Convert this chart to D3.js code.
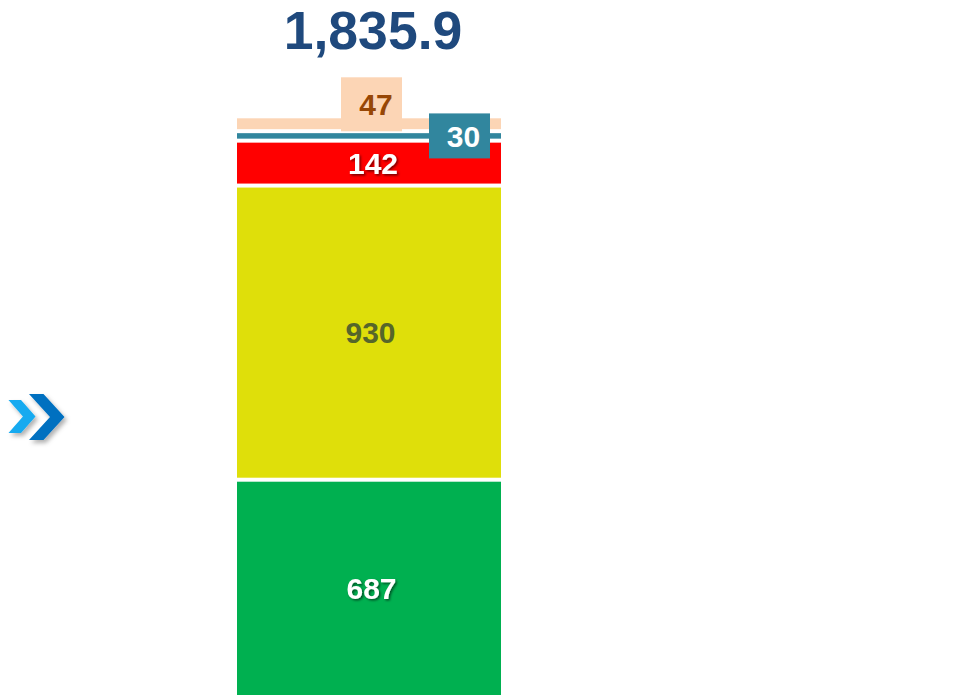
<!DOCTYPE html>
<html>
<head>
<meta charset="utf-8">
<script src="https://cdn.jsdelivr.net/npm/d3@7"></script>
<style>
  html, body { margin: 0; padding: 0; background: #fff; }
  svg { display: block; }
  text { font-family: "Liberation Sans", Arial, sans-serif; font-weight: bold; }
</style>
</head>
<body>
<svg id="chart" width="961" height="696"></svg>
<script>
// Segments of the stacked column, bottom to top
const segments = ["Segment A", "Segment B", "Segment C", "Segment D", "Segment E"];
const values = [687, 930, 142, 30, 47];
const labels = ["687", "930", "142", "30", "47"];
const totalLabel = "1,835.9";

const fills = ["#00b050", "#dfdf0a", "#ff0000", "#31869e", "#fcd5b5"];
const labelColors = ["#ffffff", "#56662a", "#ffffff", "#ffffff", "#974706"];

const svg = d3.select("#chart");

const defs = svg.append("defs");
const shadow = defs.append("filter").attr("id", "textShadow")
  .attr("x", "-20%").attr("y", "-20%").attr("width", "140%").attr("height", "140%");
shadow.append("feDropShadow").attr("dx", 1.5).attr("dy", 1.5).attr("stdDeviation", 0.8)
  .attr("flood-color", "#000").attr("flood-opacity", 0.55);
const iconShadow = defs.append("filter").attr("id", "iconShadow")
  .attr("x", "-30%").attr("y", "-30%").attr("width", "170%").attr("height", "170%");
iconShadow.append("feDropShadow").attr("dx", 2.5).attr("dy", 3).attr("stdDeviation", 2)
  .attr("flood-color", "#000").attr("flood-opacity", 0.3);

// Stack the values into cumulative extents
let acc = 0;
const stacked = values.map((v, i) => {
  const d = { key: segments[i], value: v, y0: acc, y1: acc + v, i };
  acc += v;
  return d;
});
const total = acc;

const x = d3.scaleBand().domain(["total"]).range([237, 501]).paddingInner(0).paddingOuter(0);
const y = d3.scaleLinear().domain([0, total]).range([697, 116.3]);

const gap = 2; // white separation between stacked pieces
const bar = svg.append("g");
bar.selectAll("rect").data(stacked).join("rect")
  .attr("x", x("total"))
  .attr("width", x.bandwidth())
  .attr("y", d => y(d.y1) + gap)
  .attr("height", d => Math.max(0, y(d.y0) - y(d.y1) - 2 * gap))
  .attr("fill", d => fills[d.i]);

const cx = x("total") + x.bandwidth() / 2;

// Labels inside the three large pieces
const inside = stacked.slice(0, 3);
svg.append("g").selectAll("text").data(inside).join("text")
  .attr("x", (d, i) => cx + [2.5, 1.5, 4][i])
  .attr("y", d => y((d.y0 + d.y1) / 2))
  .attr("dy", "0.36em")
  .attr("text-anchor", "middle")
  .attr("font-size", 30)
  .attr("fill", d => labelColors[d.i])
  .attr("filter", d => d.i === 1 ? null : "url(#textShadow)")
  .text(d => labels[d.i]);

// Callout for the thin teal piece, at the right edge
const dTeal = stacked[3];
const tealY = y((dTeal.y0 + dTeal.y1) / 2);
const tealG = svg.append("g");
tealG.append("rect").attr("x", 429).attr("y", tealY - 22.5).attr("width", 61).attr("height", 45)
  .attr("fill", fills[3]);
tealG.append("text").attr("x", 463.5).attr("y", tealY).attr("dy", "0.36em")
  .attr("text-anchor", "middle").attr("font-size", 30).attr("fill", labelColors[3])
  .text(labels[3]);

// Callout for the top peach piece, above the column
const dPeach = stacked[4];
const peachTop = y(dPeach.y1);
const peachG = svg.append("g");
peachG.append("rect").attr("x", 341).attr("y", peachTop - 39).attr("width", 61).attr("height", 54)
  .attr("fill", fills[4]);
peachG.append("text").attr("x", 376).attr("y", peachTop - 12).attr("dy", "0.36em")
  .attr("text-anchor", "middle").attr("font-size", 30).attr("fill", labelColors[4])
  .text(labels[4]);

// Column total
svg.append("text")
  .attr("x", cx + 4).attr("y", 49)
  .attr("text-anchor", "middle")
  .attr("font-size", 53.5)
  .attr("fill", "#1f497d")
  .text(totalLabel);

// Double chevron marker at the left
const chevron = (x0, yMid, w, h, t) => {
  const top = yMid - h / 2, bot = yMid + h / 2;
  return `M${x0},${top} L${x0 + t},${top} L${x0 + w},${yMid} L${x0 + t},${bot} L${x0},${bot} L${x0 + w - t},${yMid} Z`;
};
const icon = svg.append("g").attr("filter", "url(#iconShadow)");
icon.append("path").attr("d", chevron(8.5, 416.5, 27, 33, 12.5)).attr("fill", "#14aaf0");
icon.append("path").attr("d", chevron(29, 417, 35.5, 46, 14.5)).attr("fill", "#0070c0");
</script>
</body>
</html>
